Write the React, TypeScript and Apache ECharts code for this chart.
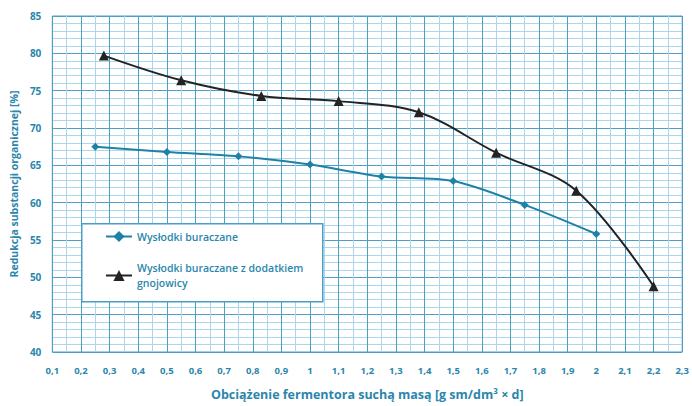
import React, { useEffect, useRef } from "react";
import * as echarts from "echarts";

// Load on the fermenter (dry mass) and organic matter reduction
const pulpLoad = [0.25, 0.5, 0.75, 1.0, 1.25, 1.5, 1.75, 2.0];
const pulpReduction = [67.5, 66.8, 66.2, 65.1, 63.5, 62.9, 59.7, 55.8];

const manureLoad = [0.28, 0.55, 0.83, 1.1, 1.38, 1.65, 1.93, 2.2];
const manureReduction = [79.7, 76.4, 74.3, 73.6, 72.1, 66.7, 61.6, 48.8];

const seriesNames = ["Wysłodki buraczane", "Wysłodki buraczane z dodatkiem gnojowicy"];
const legendLabels = ["Wysłodki buraczane", "Wysłodki buraczane z dodatkiem\ngnojowicy"];

const xTitle = "Obciążenie fermentora suchą masą [g sm/dm³ × d]";
const yTitle = "Redukcja substancji organicznej [%]";

const TEAL = "#2a86ad";
const BLUE_LINE = "#1e82a6";
const DARK = "#232323";
const MAJOR = "#4b9fc6";
const MINOR = "#acd6ea";
const FONT = "'Open Sans', 'Noto Sans', sans-serif";

const pairs = (xs: number[], ys: number[]) => xs.map((x, i) => [x, ys[i]]);

const fmtX = (v: number) => {
  const n = Math.round(v * 100) / 100;
  return String(n).replace(".", ",");
};

export default function App() {
  const ref = useRef<HTMLDivElement>(null);

  useEffect(() => {
    if (!ref.current) return;
    const chart = echarts.init(ref.current, undefined, { renderer: "svg" });
    chart.setOption({
      animation: false,
      backgroundColor: "#ffffff",
      textStyle: { fontFamily: FONT },
      grid: { left: 48, right: 4, top: 16, bottom: 53, show: true, borderColor: MAJOR, borderWidth: 1 },
      xAxis: {
        type: "value",
        min: 0.1,
        max: 2.3,
        interval: 0.1,
        name: xTitle,
        nameLocation: "middle",
        nameGap: 36,
        nameTextStyle: { color: TEAL, fontSize: 12.5, fontWeight: "bold", fontFamily: FONT },
        axisLine: { show: false },
        axisTick: { show: false },
        axisLabel: {
          formatter: fmtX,
          color: TEAL,
          fontSize: 9.5,
          fontWeight: "bold",
          margin: 13,
        },
        splitLine: { show: true, lineStyle: { color: MAJOR, width: 1 } },
        minorTick: { show: false, splitNumber: 2 },
        minorSplitLine: { show: true, lineStyle: { color: MINOR, width: 1 } },
      },
      yAxis: {
        type: "value",
        min: 40,
        max: 85,
        interval: 5,
        name: yTitle,
        nameLocation: "middle",
        nameRotate: 90,
        nameGap: 33,
        nameTextStyle: { color: TEAL, fontSize: 10.5, fontWeight: "bold", fontFamily: FONT },
        axisLine: { show: false },
        axisTick: { show: false },
        axisLabel: { color: TEAL, fontSize: 10, fontWeight: "bold", margin: 11 },
        splitLine: { show: true, lineStyle: { color: MAJOR, width: 1 } },
        minorTick: { show: false, splitNumber: 5 },
        minorSplitLine: { show: true, lineStyle: { color: MINOR, width: 1 } },
      },
      graphic: [
        {
          type: "rect",
          left: 81,
          top: 223,
          z: 3,
          shape: { width: 241, height: 78 },
          style: { fill: "#ffffff", stroke: MAJOR, lineWidth: 1.5 },
        },
      ],
      legend: {
        orient: "vertical",
        left: 105,
        top: 229,
        padding: 0,
        z: 10,
        itemWidth: 26,
        itemHeight: 14,
        itemGap: 9,
        textStyle: { color: TEAL, fontSize: 10.5, fontWeight: 600, fontFamily: FONT, lineHeight: 15 },
        formatter: (name: string) => legendLabels[seriesNames.indexOf(name)],
        data: [
          { name: seriesNames[0] },
          { name: seriesNames[1], textStyle: { padding: [15, 0, 0, 0] } },
        ],
      },
      series: [
        {
          name: seriesNames[0],
          type: "line",
          data: pairs(pulpLoad, pulpReduction),
          smooth: 0.3,
          symbol: "diamond",
          symbolSize: 8,
          lineStyle: { color: BLUE_LINE, width: 2 },
          itemStyle: { color: BLUE_LINE },
          z: 5,
        },
        {
          name: seriesNames[1],
          type: "line",
          data: pairs(manureLoad, manureReduction),
          smooth: 0.35,
          symbol: "triangle",
          symbolSize: 10,
          lineStyle: { color: DARK, width: 2 },
          itemStyle: { color: DARK },
          z: 5,
        },
      ],
    });
    return () => chart.dispose();
  }, []);

  return <div ref={ref} style={{ width: 692, height: 406, position: "absolute", left: 0, top: 0 }} />;
}
